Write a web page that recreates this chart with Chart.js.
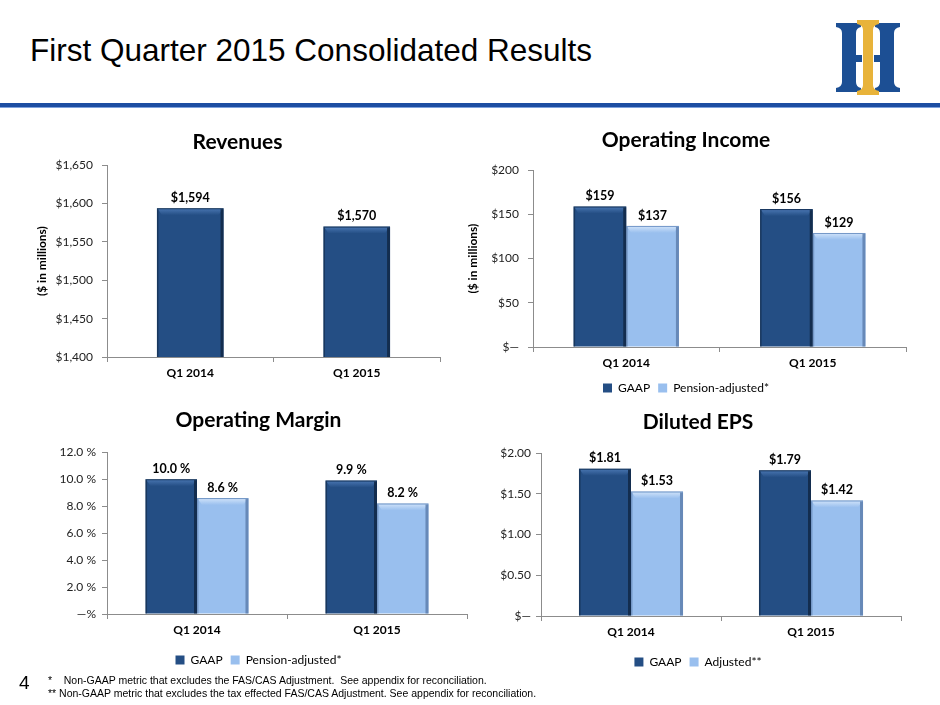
<!DOCTYPE html>
<html>
<head>
<meta charset="utf-8">
<script src="https://cdn.jsdelivr.net/npm/chart.js@4.4.1/dist/chart.umd.min.js"></script>
<style>
  html,body{margin:0;padding:0;}
  body{width:940px;height:705px;background:#fff;position:relative;overflow:hidden;font-family:"Liberation Sans",Arial,sans-serif;}
  #pageTitle{position:absolute;left:30px;top:35px;font-size:31.5px;line-height:1;color:#000;white-space:nowrap;}
  .rule1{position:absolute;left:0;top:103px;width:940px;height:4px;background:#1D4EA2;}
  .rule2{position:absolute;left:0;top:107px;width:940px;height:1px;background:#7FA2DD;}
  .box{position:absolute;}
  #logo{position:absolute;left:830px;top:15px;}
  #pageNum{position:absolute;left:19px;top:673px;font-size:19px;line-height:1;color:#000;}
  .fn{position:absolute;left:48px;font-size:10.5px;line-height:1;color:#000;white-space:pre;}
</style>
</head>
<body>
<div id="pageTitle">First Quarter 2015 Consolidated Results</div>
<svg id="logo" width="75" height="85" viewBox="830 15 75 85">
  <path fill="#1C4F94" d="M836,23 L861,23 L861,27 Q856,28 856,33 L856,55 L862,55 L862,62 L856,62 L856,82 Q856,87 861,88 L861,92 L836,92 L836,88 Q842,87 842,82 L842,33 Q842,28 836,27 Z"/>
  <path fill="#1C4F94" d="M900,23 L875,23 L875,27 Q880,28 880,33 L880,55 L874,55 L874,62 L880,62 L880,82 Q880,87 875,88 L875,92 L900,92 L900,88 Q894,87 894,82 L894,33 Q894,28 900,27 Z"/>
  <path fill="#E8B33A" d="M857,20 L879,20 L879,24 Q873,25 873,30 L873,85 Q873,90 879,91 L879,95 L857,95 L857,91 Q863,90 863,85 L863,30 Q863,25 857,24 Z"/>
</svg>
<div class="rule1"></div>
<div class="rule2"></div>

<div class="box" style="left:0px;top:120px;width:470px;height:270px;"><canvas id="c1" width="470" height="270"></canvas></div>
<div class="box" style="left:455px;top:120px;width:485px;height:300px;"><canvas id="c2" width="485" height="300"></canvas></div>
<div class="box" style="left:0px;top:400px;width:480px;height:290px;"><canvas id="c3" width="480" height="290"></canvas></div>
<div class="box" style="left:470px;top:400px;width:470px;height:290px;"><canvas id="c4" width="470" height="290"></canvas></div>

<div id="pageNum">4</div>
<div class="fn" style="top:675px;">*    Non-GAAP metric that excludes the FAS/CAS Adjustment.  See appendix for reconciliation.</div>
<div class="fn" style="top:688px;">** Non-GAAP metric that excludes the tax effected FAS/CAS Adjustment. See appendix for reconciliation.</div>

<script>
// ---------------- DATA ----------------
const categories = ['Q1 2014', 'Q1 2015'];

const revenues = [1594, 1570];
const revenueTicks = ['$1,400', '$1,450', '$1,500', '$1,550', '$1,600', '$1,650'];

const opIncomeGaap = [159, 156];
const opIncomePension = [137, 129];
const opIncomeTicks = ['$\u2014', '$50', '$100', '$150', '$200'];

const opMarginGaap = [10.0, 9.9];
const opMarginPension = [8.6, 8.2];
const opMarginTicks = ['\u2014%', '2.0 %', '4.0 %', '6.0 %', '8.0 %', '10.0 %', '12.0 %'];

const epsGaap = [1.81, 1.79];
const epsAdjusted = [1.53, 1.42];
const epsTicks = ['$\u2014', '$0.50', '$1.00', '$1.50', '$2.00'];

// ---------------- STYLE ----------------
const DARK = '#244E84', DARK_HI = '#4A77B3', DARK_LO = '#112845';
const LIGHT = '#99BFEE', LIGHT_HI = '#D2E4FA', LIGHT_LO = '#5E7FAE';
const AXIS = '#8C8C8C';
Chart.defaults.font.family = 'Lato, "Open Sans", sans-serif';
Chart.defaults.color = '#000';
Chart.defaults.animation = false;

const bevelPlugin = {
  id: 'bevel',
  afterDatasetsDraw(chart) {
    const ctx = chart.ctx;
    const area = chart.chartArea;
    chart.data.datasets.forEach((ds, di) => {
      const meta = chart.getDatasetMeta(di);
      const hi = ds._hi, lo = ds._lo;
      meta.data.forEach(bar => {
        const p = bar.getProps(['x', 'y', 'base', 'width'], true);
        const l = p.x - p.width / 2, r = p.x + p.width / 2;
        const t = Math.max(p.y, area.top), b = Math.min(p.base, area.bottom);
        ctx.save();
        const g = ctx.createLinearGradient(0, t, 0, t + 7);
        g.addColorStop(0, hi);
        g.addColorStop(1, ds.backgroundColor);
        ctx.fillStyle = g;
        ctx.beginPath();
        ctx.moveTo(l + 1, t + 1); ctx.lineTo(r - 1, t + 1);
        ctx.lineTo(r - 5, t + 7); ctx.lineTo(l + 5, t + 7);
        ctx.closePath(); ctx.fill();
        ctx.fillStyle = lo;
        ctx.globalAlpha = 0.85;
        ctx.fillRect(r - 3, t + 1, 3, b - t - 1);
        ctx.globalAlpha = 0.6;
        ctx.fillRect(l, t + 1, 1.5, b - t - 1);
        ctx.fillRect(l, t, r - l, 1);
        ctx.restore();
      });
    });
  }
};

function labelPlugin(fmt) {
  return {
    id: 'valueLabels',
    afterDatasetsDraw(chart) {
      const ctx = chart.ctx;
      ctx.save();
      ctx.font = 'bold 12.5px Lato, "Open Sans", sans-serif';
      ctx.fillStyle = '#000';
      ctx.textAlign = 'center';
      ctx.textBaseline = 'bottom';
      chart.data.datasets.forEach((ds, di) => {
        chart.getDatasetMeta(di).data.forEach((bar, i) => {
          ctx.fillText(fmt(ds.data[i]), bar.x, bar.y - 4);
        });
      });
      ctx.restore();
    }
  };
}

function ds(label, data, dark) {
  return {
    label, data,
    backgroundColor: dark ? DARK : LIGHT,
    _hi: dark ? DARK_HI : LIGHT_HI,
    _lo: dark ? DARK_LO : LIGHT_LO,
    borderWidth: 0,
    barPercentage: 1
  };
}

function makeChart(id, cfg) {
  return new Chart(document.getElementById(id), {
    type: 'bar',
    data: { labels: categories, datasets: cfg.datasets.map(d => Object.assign(d, { categoryPercentage: cfg.catPct })) },
    plugins: [bevelPlugin, labelPlugin(cfg.fmt)],
    options: {
      responsive: false,
      animation: false,
      layout: { padding: cfg.pad },
      plugins: {
        tooltip: { enabled: false },
        title: {
          display: true, text: cfg.title, color: '#000',
          font: { size: 21, weight: 'bold', lineHeight: 1.2 },
          padding: { top: 0, bottom: cfg.titleGap }
        },
        legend: cfg.legend ? {
          display: true, position: 'bottom',
          labels: { boxWidth: 9, boxHeight: 9, padding: 8, color: '#000', font: { size: 12 } }
        } : { display: false }
      },
      scales: {
        x: {
          grid: { drawOnChartArea: false, tickLength: 5, color: AXIS, offset: true },
          border: { color: AXIS },
          ticks: { font: { size: 12, weight: 'bold' }, color: '#000', padding: 4 },
          afterFit: s => { s.height = cfg.xH; }
        },
        y: {
          min: cfg.min, max: cfg.max,
          title: cfg.yTitle ? { display: true, text: '($ in millions)', color: '#000', font: { size: 12, weight: 'bold', lineHeight: 1.2 }, padding: 0 } : { display: false },
          grid: { drawOnChartArea: false, tickLength: 5, color: AXIS },
          border: { color: AXIS },
          ticks: {
            stepSize: cfg.step, padding: cfg.tickPad, color: '#222', font: { size: 12 },
            callback: (v, i) => cfg.ticks[i]
          },
          afterFit: s => { s.width = cfg.yW; }
        }
      }
    }
  });
}

makeChart('c1', {
  title: 'Revenues', titleGap: 10,
  datasets: [ds('Revenues', revenues, true)], catPct: 0.4,
  fmt: v => '$' + v.toLocaleString('en-US'),
  pad: { left: 35, right: 30, top: 10, bottom: 3 },
  xH: 30, yW: 72, yTitle: true, tickPad: 9,
  min: 1400, max: 1650, step: 50, ticks: revenueTicks, legend: false
});

makeChart('c2', {
  title: 'Operating Income', titleGap: 17,
  datasets: [ds('GAAP', opIncomeGaap, true), ds('Pension-adjusted*', opIncomePension, false)], catPct: 0.565,
  fmt: v => '$' + v,
  pad: { left: 11, right: 34, top: 8, bottom: 16 },
  xH: 27, yW: 67, yTitle: true, tickPad: 9,
  min: 0, max: 200, step: 50, ticks: opIncomeTicks, legend: true
});

makeChart('c3', {
  title: 'Operating Margin', titleGap: 19,
  datasets: [ds('GAAP', opMarginGaap, true), ds('Pension-adjusted*', opMarginPension, false)], catPct: 0.572,
  fmt: v => v.toFixed(1) + ' %',
  pad: { left: 50, right: 13, top: 8, bottom: 14 },
  xH: 32, yW: 57, yTitle: false, tickPad: 6,
  min: 0, max: 12, step: 2, ticks: opMarginTicks, legend: true
});

makeChart('c4', {
  title: 'Diluted EPS', titleGap: 18,
  datasets: [ds('GAAP', epsGaap, true), ds('Adjusted**', epsAdjusted, false)], catPct: 0.578,
  fmt: v => '$' + v.toFixed(2),
  pad: { left: 25, right: 39, top: 10, bottom: 12 },
  xH: 32, yW: 46, yTitle: false, tickPad: 5,
  min: 0, max: 2, step: 0.5, ticks: epsTicks, legend: true
});
</script>
</body>
</html>
